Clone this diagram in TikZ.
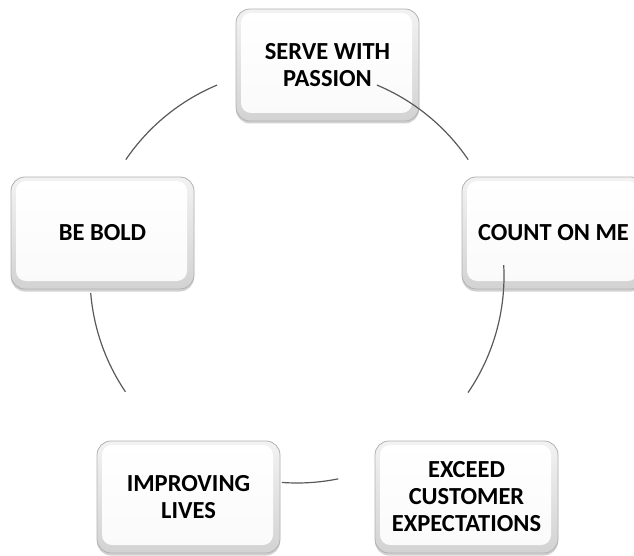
\documentclass[tikz,border=0pt]{standalone}
\usepackage{fontspec}
\setmainfont{Carlito}
\usetikzlibrary{shadows}

\begin{document}
\begin{tikzpicture}[
  x=1pt, y=1pt,
  valbox/.style={
    rounded corners=14pt,
    minimum width=183pt, minimum height=112pt,
    inner sep=0pt, align=center,
    font=\fontsize{24.5}{27}\selectfont\bfseries,
    draw=gray!60, line width=0.8pt,
    top color=gray!10, bottom color=gray!35,
    drop shadow={shadow xshift=0pt, shadow yshift=-2.5pt, fill=black, opacity=0.18},
    path picture={
      \shade[rounded corners=10pt, top color=white, bottom color=gray!4]
        ([xshift=5pt,yshift=-4pt]path picture bounding box.north west)
        rectangle ([xshift=-7pt,yshift=8pt]path picture bounding box.south east);
    }
  },
  cyclearc/.style={draw=black!65, line width=1.2pt}
]
\useasboundingbox (0,0) rectangle (634,555);

% the five values
\node[valbox] (serve)   at (327.5,490) {SERVE WITH\\PASSION};
\node[valbox] (count)   at (553.5,322) {COUNT ON ME};
\node[valbox] (bold)    at (102.5,322) {BE BOLD};
\node[valbox] (improve) at (188.5,58)  {IMPROVING\\LIVES};
\node[valbox] (exceed)  at (466.5,58)  {EXCEED\\CUSTOMER\\EXPECTATIONS};

% the cycle ring, broken into arcs between neighbouring values
\coordinate (ring) at (297,279);
\draw[cyclearc] ([shift={(67.3:207pt)}]ring)  arc[start angle=67.3,  end angle=34.2,  radius=207pt];
\draw[cyclearc] ([shift={(3:207pt)}]ring)     arc[start angle=3,     end angle=-34.3, radius=207pt];
\draw[cyclearc] ([shift={(281.5:207pt)}]ring) arc[start angle=281.5, end angle=265.8, radius=207pt];
\draw[cyclearc] ([shift={(214:207pt)}]ring)   arc[start angle=214,   end angle=184.7, radius=207pt];
\draw[cyclearc] ([shift={(145.8:207pt)}]ring) arc[start angle=145.8, end angle=112.7, radius=207pt];
\end{tikzpicture}
\end{document}
